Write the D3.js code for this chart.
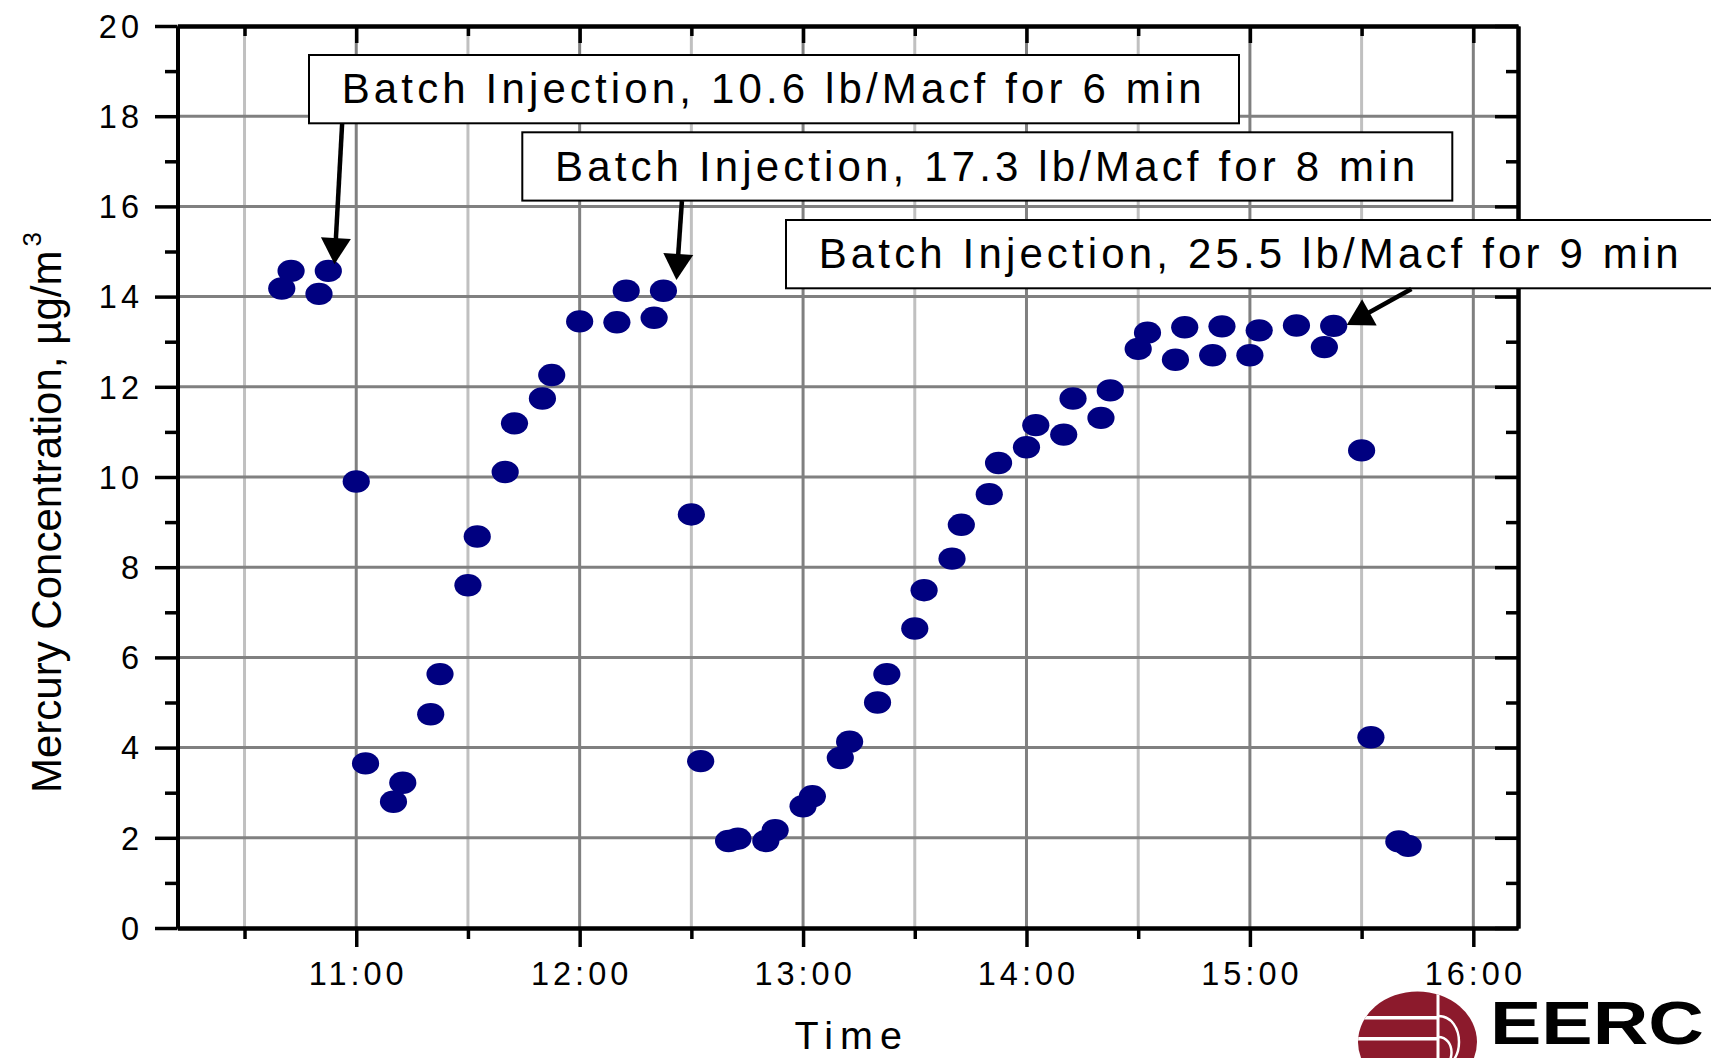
<!DOCTYPE html>
<html><head><meta charset="utf-8">
<script src="https://cdn.jsdelivr.net/npm/d3@7"></script>
<style>
html,body{margin:0;padding:0;background:#fff;}
svg{display:block;}
text{font-family:"Liberation Sans",Arial,Helvetica,sans-serif;fill:#000;}
</style></head><body>
<svg id="chart" width="1711" height="1058"></svg>
<script>
// ---------------- data ----------------
const times = [
  "10:40:00","10:42:30","10:50:00","10:52:30","11:00:00","11:02:30","11:10:00","11:12:30",
  "11:20:00","11:22:30","11:30:00","11:32:30","11:40:00","11:42:30","11:50:00","11:52:30",
  "12:00:00","12:10:00","12:12:30","12:20:00","12:22:30","12:30:00","12:32:30","12:40:00",
  "12:42:30","12:50:00","12:52:30","13:00:00","13:02:30","13:10:00","13:12:30","13:20:00",
  "13:22:30","13:30:00","13:32:30","13:40:00","13:42:30","13:50:00","13:52:30","14:00:00",
  "14:02:30","14:10:00","14:12:30","14:20:00","14:22:30","14:30:00","14:32:30","14:40:00",
  "14:42:30","14:50:00","14:52:30","15:00:00","15:02:30","15:12:30","15:20:00","15:22:30",
  "15:30:00","15:32:30","15:40:00","15:42:30"
];
const mercury = [
  14.18,14.57,14.06,14.57,9.90,3.65,2.80,3.22,
  4.74,5.63,7.60,8.68,10.11,11.19,11.74,12.26,
  13.45,13.43,14.13,13.53,14.13,9.17,3.70,1.93,
  1.98,1.93,2.17,2.70,2.92,3.77,4.13,5.00,
  5.63,6.64,7.49,8.19,8.94,9.62,10.31,10.66,
  11.15,10.94,11.74,11.31,11.92,12.84,13.20,12.60,
  13.32,12.70,13.34,12.70,13.25,13.36,12.88,13.35,
  10.59,4.23,1.92,1.82
];
const xDomain = ["10:12:00","16:12:00"];
const yDomain = [0, 20];
const xTickLabels = ["11:00","12:00","13:00","14:00","15:00","16:00"];
const xMinorTicks = ["10:30","11:30","12:30","13:30","14:30","15:30"];
const yMajorTicks = [0,2,4,6,8,10,12,14,16,18,20];
const yMinorTicks = [1,3,5,7,9,11,13,15,17,19];
const yAxisTitle = "Mercury Concentration, \u00b5g/m";
const yAxisTitleSup = "3";
const xAxisTitle = "Time";
const annotationLabels = [
  "Batch Injection, 10.6 lb/Macf for 6 min",
  "Batch Injection, 17.3 lb/Macf for 8 min",
  "Batch Injection, 25.5 lb/Macf for 9 min"
];
const arrowTails = [["10:56:13",17.84],["12:27:28",16.12],["15:43:22",14.17]];
const arrowTips  = [["10:54:10",14.72],["12:26:00",14.37],["15:26:00",13.37]];
const logoText = "EERC";

// ---------------- layout ----------------
const plot = {left:177.5, right:1518, top:26, bottom:928};
const boxLayout = [{x:309,y:55},{x:522.3,y:132.3},{x:786,y:220}];
const boxW = 930, boxH = 68.3;

const svg = d3.select("#chart");
const pT = d3.timeParse("%H:%M:%S");
const pHM = d3.timeParse("%H:%M");
const x = d3.scaleTime().domain(xDomain.map(pT)).range([plot.left, plot.right]);
const y = d3.scaleLinear().domain(yDomain).range([plot.bottom, plot.top]);

// ---------------- grid ----------------
const grid = svg.append("g");
grid.selectAll("line.vmin").data(xMinorTicks).join("line")
  .attr("x1", d=>x(pHM(d))).attr("x2", d=>x(pHM(d)))
  .attr("y1", plot.top).attr("y2", plot.bottom)
  .attr("stroke","#c0c0c0").attr("stroke-width",3);
grid.selectAll("line.vmaj").data(xTickLabels).join("line")
  .attr("x1", d=>x(pHM(d))).attr("x2", d=>x(pHM(d)))
  .attr("y1", plot.top).attr("y2", plot.bottom)
  .attr("stroke","#808080").attr("stroke-width",3);
grid.selectAll("line.h").data(yMajorTicks.filter(v=>v>0 && v<20)).join("line")
  .attr("x1", plot.left).attr("x2", plot.right)
  .attr("y1", d=>y(d)).attr("y2", d=>y(d))
  .attr("stroke","#808080").attr("stroke-width",3);

// ---------------- points ----------------
const pts = times.map((t,i)=>({t:pT(t), v:mercury[i]}));
svg.append("g").selectAll("ellipse").data(pts).join("ellipse")
  .attr("cx", d=>x(d.t)).attr("cy", d=>y(d.v))
  .attr("rx", 13.6).attr("ry", 11.2)
  .attr("fill", "#000080");

// ---------------- axes ----------------
function styleAxis(g){
  g.select(".domain").attr("stroke","#000").attr("stroke-width",4);
  g.selectAll(".tick line").attr("stroke","#000").attr("stroke-width",3.5);
  g.selectAll(".tick text").remove();
}
// left (outward)
svg.append("g").attr("transform",`translate(${plot.left},0)`)
  .call(d3.axisLeft(y).tickValues(yMinorTicks).tickSizeInner(12.5).tickSizeOuter(0)).call(styleAxis);
svg.append("g").attr("transform",`translate(${plot.left},0)`)
  .call(d3.axisLeft(y).tickValues(yMajorTicks).tickSizeInner(22.5).tickSizeOuter(0)).call(styleAxis);
// right (inward)
svg.append("g").attr("transform",`translate(${plot.right},0)`)
  .call(d3.axisRight(y).tickValues(yMinorTicks).tickSizeInner(-12).tickSizeOuter(0)).call(styleAxis);
svg.append("g").attr("transform",`translate(${plot.right},0)`)
  .call(d3.axisRight(y).tickValues(yMajorTicks).tickSizeInner(-23).tickSizeOuter(0)).call(styleAxis);
// bottom (outward)
svg.append("g").attr("transform",`translate(0,${plot.bottom})`)
  .call(d3.axisBottom(x).tickValues(xMinorTicks.map(pHM)).tickSizeInner(11).tickSizeOuter(0)).call(styleAxis);
svg.append("g").attr("transform",`translate(0,${plot.bottom})`)
  .call(d3.axisBottom(x).tickValues(xTickLabels.map(pHM)).tickSizeInner(19).tickSizeOuter(0)).call(styleAxis);
// top (inward)
svg.append("g").attr("transform",`translate(0,${plot.top})`)
  .call(d3.axisTop(x).tickValues(xMinorTicks.map(pHM)).tickSizeInner(-10).tickSizeOuter(0)).call(styleAxis);
svg.append("g").attr("transform",`translate(0,${plot.top})`)
  .call(d3.axisTop(x).tickValues(xTickLabels.map(pHM)).tickSizeInner(-17).tickSizeOuter(0)).call(styleAxis);

// tick labels
svg.append("g").selectAll("text").data(yMajorTicks).join("text")
  .attr("x", 143).attr("y", d=>y(d)+11.7)
  .attr("text-anchor","end").attr("font-size",32.5).attr("letter-spacing",4)
  .text(d=>d);
svg.append("g").selectAll("text").data(xTickLabels).join("text")
  .attr("x", d=>x(pHM(d))+2).attr("y", 985)
  .attr("text-anchor","middle").attr("font-size",32.5).attr("letter-spacing",4)
  .text(d=>d);

// axis titles
svg.append("text")
  .attr("x", (plot.left+plot.right)/2+4).attr("y", 1049)
  .attr("text-anchor","middle").attr("font-size",39.5).attr("letter-spacing",7)
  .text(xAxisTitle);
const yt = svg.append("text")
  .attr("transform","translate(61,793) rotate(-90)")
  .attr("text-anchor","start").attr("font-size",42);
yt.append("tspan").text(yAxisTitle);
yt.append("tspan").attr("font-size",26).attr("dx",4).attr("dy",-20).text(yAxisTitleSup);

// ---------------- annotations ----------------
const ann = svg.append("g");
annotationLabels.forEach((lab,i)=>{
  const b = boxLayout[i];
  ann.append("rect").attr("x",b.x).attr("y",b.y).attr("width",boxW).attr("height",boxH)
    .attr("fill","#fff").attr("stroke","#000").attr("stroke-width",2);
  ann.append("text").attr("x",b.x+32.7).attr("y",b.y+48.3)
    .attr("font-size",42).attr("textLength",860).attr("lengthAdjust","spacing")
    .text(lab);
  // arrow
  const x0 = x(pT(arrowTails[i][0])), y0 = y(arrowTails[i][1]);
  const x1 = x(pT(arrowTips[i][0])),  y1 = y(arrowTips[i][1]);
  const dx = x1-x0, dy = y1-y0, L = Math.hypot(dx,dy), ux = dx/L, uy = dy/L;
  const headL = 26, headW = 15;
  const bx = x1-ux*headL, by = y1-uy*headL;
  ann.append("line").attr("x1",x0).attr("y1",y0).attr("x2",bx+ux*2).attr("y2",by+uy*2)
    .attr("stroke","#000").attr("stroke-width",4.5);
  ann.append("path")
    .attr("d",`M${x1},${y1}L${bx-uy*headW},${by+ux*headW}L${bx+uy*headW},${by-ux*headW}Z`)
    .attr("fill","#000");
});

// ---------------- logo ----------------
const logo = svg.append("g");
const defs = svg.append("defs");
defs.append("clipPath").attr("id","logoClip")
  .append("ellipse").attr("cx",1417.5).attr("cy",1042).attr("rx",59.5).attr("ry",50.5);
logo.append("ellipse").attr("cx",1417.5).attr("cy",1042).attr("rx",59.5).attr("ry",50.5)
  .attr("fill","#8c1a2c");
const lc = logo.append("g").attr("clip-path","url(#logoClip)");
lc.append("rect").attr("x",1350).attr("y",1016).attr("width",88).attr("height",3.5).attr("fill","#fff");
lc.append("rect").attr("x",1350).attr("y",1037).attr("width",88).attr("height",3.5).attr("fill","#fff");
lc.append("rect").attr("x",1436.5).attr("y",985).attr("width",3).attr("height",80).attr("fill","#fff");
lc.append("path").attr("d","M1438,1016 C1466,1016 1466,1068 1438,1068")
  .attr("fill","none").attr("stroke","#fff").attr("stroke-width",2.5);
lc.append("path").attr("d","M1438,1037 C1456,1037 1456,1068 1438,1068")
  .attr("fill","none").attr("stroke","#fff").attr("stroke-width",2.5);
logo.append("text").attr("x",1490).attr("y",1044)
  .attr("font-size",62).attr("font-weight","bold")
  .attr("textLength",214).attr("lengthAdjust","spacingAndGlyphs")
  .text(logoText);
</script>
</body></html>
